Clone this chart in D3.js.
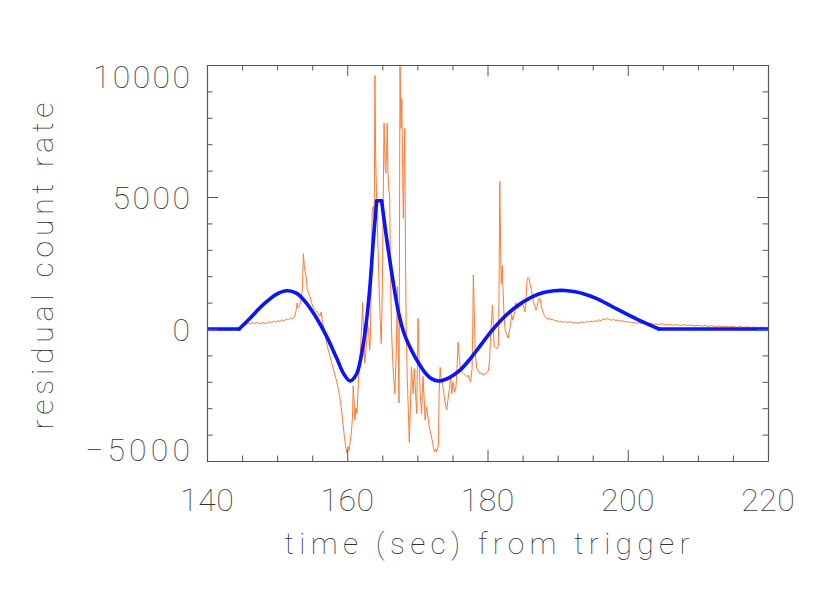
<!DOCTYPE html>
<html><head><meta charset="utf-8">
<script src="https://cdn.jsdelivr.net/npm/d3@7"></script>
<style>body{margin:0;background:#fff}</style>
</head><body><svg id="c" width="830" height="593"></svg>
<script>
// ---- data ----
const xDomain = [140, 220];
const yDomain = [-5000, 10000];
const xTickLabels = [140, 160, 180, 200, 220];
const yTickLabels = [-5000, 0, 5000, 10000];
const xTitle = "time (sec) from trigger";
const yTitle = "residual count rate";

// residual count rate (orange), [time, counts]
const residualSeries = [
[140,20],[140.5,-15],[141,10],[141.5,-45],[142,-20],[142.5,-55],[143,-10],[143.5,-35],[144,20],[144.5,-5],[145,90],
[145.3,200],[145.6,150],[145.9,230],[146.2,190],[146.5,240],[146.8,205],[147.1,260],[147.4,215],[147.7,195],[148.0,250],
[148.3,205],[148.6,235],[148.9,270],[149.2,235],[149.5,300],[149.8,255],[150.1,320],[150.4,280],[150.7,350],[151.0,305],
[151.3,380],[151.6,340],[151.9,420],[152.2,380],[152.5,450],[152.7,700],[152.85,980],[153.0,820],[153.2,900],[153.4,1100],
[153.6,1500],[153.75,2850],[153.9,2300],[154.1,2050],[154.3,1500],[154.5,1350],[154.7,1200],[154.9,1000],[155.1,850],
[155.3,760],[155.5,700],[155.8,600],[156.1,480],[156.3,650],[156.45,300],[156.7,0],[157.0,-450],[157.3,-800],[157.6,-1100],
[157.9,-1400],[158.2,-1700],[158.5,-2000],[158.8,-2350],[159.0,-2700],[159.2,-3100],[159.4,-3600],[159.6,-4100],[159.8,-4500],
[159.95,-4700],[160.1,-4450],[160.25,-4600],[160.4,-4300],[160.6,-3900],[160.75,-3300],[160.85,-2150],[160.95,-2600],
[161.1,-3450],[161.25,-3000],[161.4,-3200],[161.6,-1900],[161.8,-1200],[162.0,-200],[162.2,1000],[162.35,-300],[162.5,-1300],
[162.7,-700],[162.9,200],[163.05,-100],[163.2,-800],[163.3,-300],[163.45,2500],[163.55,4400],[163.7,4650],[163.85,4200],
[163.95,9600],[164.05,6500],[164.2,4800],[164.4,3000],[164.55,1500],[164.7,300],[164.85,-550],[165.0,1500],[165.15,5500],
[165.25,7800],[165.4,6200],[165.5,5900],[165.62,6800],[165.7,7800],[165.8,6000],[165.9,5400],[166.05,5000],[166.15,2500],
[166.3,100],[166.45,-1000],[166.6,-1800],[166.8,-2450],[166.9,-1500],[167.0,-800],[167.15,1600],[167.3,-1400],[167.38,-2800],
[167.45,3000],[167.52,10500],[167.6,8500],[167.68,7600],[167.78,8700],[167.9,6000],[168.0,4200],[168.1,6000],[168.2,7600],
[168.3,3000],[168.4,100],[168.55,-1800],[168.7,-3000],[168.85,-4300],[169.0,-3000],[169.15,-1450],[169.3,-2000],[169.4,-2450],
[169.55,-1500],[169.7,-2200],[169.9,-3200],[170.0,-1500],[170.1,400],[170.25,-1200],[170.4,-2450],[170.6,-3200],[170.8,-1800],
[171.0,-2800],[171.1,-3450],[171.3,-2950],[171.5,-3300],[171.7,-3700],[171.9,-3950],[172.1,-4200],[172.3,-4500],[172.45,-4650],
[172.6,-4550],[172.75,-4650],[172.9,-4500],[173.0,-4400],[173.1,-2450],[173.25,-1450],[173.4,-1900],[173.55,-2000],
[173.75,-2400],[173.9,-2700],[174.05,-2950],[174.2,-3050],[174.35,-2700],[174.55,-2300],[174.75,-1800],[174.9,-2450],
[175.1,-2000],[175.3,-2400],[175.5,-2200],[175.65,-1500],[175.8,-500],[175.95,-1000],[176.15,-1550],[176.4,-1650],
[176.6,-1700],[176.8,-1750],[177.0,-1800],[177.25,-1750],[177.45,-1950],[177.6,-2000],[177.8,-1500],[177.9,0],[177.98,2050],
[178.1,800],[178.25,-900],[178.45,-1450],[178.7,-1600],[178.9,-1700],[179.15,-1650],[179.4,-1750],[179.65,-1700],[179.9,-1650],
[180.1,-1600],[180.3,-1200],[180.45,-200],[180.6,400],[180.7,900],[180.8,300],[180.95,-650],[181.15,-700],[181.35,-750],
[181.55,-650],[181.65,1500],[181.75,5600],[181.85,3500],[181.97,1700],[182.1,2400],[182.2,1600],[182.35,600],[182.5,0],
[182.65,-150],[182.8,-250],[182.97,-350],[183.1,-100],[183.25,100],[183.45,550],[183.6,330],[183.75,500],[183.9,660],
[184.05,1000],[184.2,850],[184.35,760],[184.5,900],[184.6,840],[184.8,900],[185.0,980],[185.2,800],[185.35,650],[185.5,1200],
[185.65,1850],[185.8,1950],[185.95,1900],[186.1,1650],[186.25,1500],[186.4,1250],[186.55,1050],[186.7,900],[186.9,720],
[187.05,800],[187.2,1050],[187.35,1150],[187.5,1150],[187.6,950],[187.75,780],[187.95,600],[188.15,480],[188.4,400],
[188.6,360],[188.8,420],[189.0,340],[189.3,380],[189.6,290],[189.9,330],[190.2,260],[190.5,300],[190.8,250],[191.1,290],
[191.4,230],[191.7,280],[192.0,250],[192.3,220],[192.6,260],[192.9,210],[193.2,240],[193.5,270],[193.8,230],[194.1,290],
[194.4,260],[194.7,300],[195.0,270],[195.3,320],[195.6,280],[195.9,350],[196.2,310],[196.5,390],[196.8,350],[197.1,410],
[197.4,360],[197.7,330],[198.0,370],[198.3,310],[198.6,340],[198.9,290],[199.2,320],[199.5,270],[199.8,290],[200.1,240],
[200.4,270],[200.7,230],[201.0,260],[201.3,210],[201.6,250],[201.9,200],[202.2,230],[202.5,190],[202.8,220],[203.1,180],
[203.4,210],[203.7,170],[204.0,200],[204.3,160],[204.6,190],[205,185],[205.5,150],[206,180],[206.5,140],[207,170],
[207.5,130],[208,165],[208.5,125],[209,155],[209.5,115],[210,145],[210.5,105],[211,135],[211.5,95],[212,125],[212.5,90],
[213,115],[213.5,80],[214,105],[214.5,70],[215,100],[215.5,65],[216,90],[216.5,55],[217,85],[217.5,50],[218,80],[218.5,45],
[219,75],[219.5,40],[220,60]
];

// model curve (blue), [time, counts]
const modelSeries = [
[140,0],[144.6,0],[146.13,405],[147.3,740],[148.5,1035],[149.94,1320],[151.37,1450],[152.8,1350],[154.2,970],
[155.64,405],[157.07,-290],[158.5,-1110],[159.5,-1700],[160.4,-1970],[161.3,-1720],
[161.9,-1150],[162.6,0],[163.2,1500],[163.7,3300],[164.2,4860],[164.9,4860],[165.5,3650],
[166.5,1860],[167.3,640],[168.1,-160],[169.0,-720],[169.9,-1170],[171.0,-1620],[172.0,-1880],
[173.0,-1970],[174.5,-1850],[176,-1580],[177.5,-1140],[179,-620],[180.5,-100],[182,350],[183.5,720],[185,1010],[186.5,1240],
[188,1380],[189.5,1450],[191,1460],[192.5,1410],[194,1310],[195.5,1160],[197,960],[198.5,750],[200,545],[201.5,350],
[203,170],[204.45,0],[220,0]
];
const modelCorners = [144.6, 164.2, 164.9, 204.45];

// ---- drawing ----
const W = 830, H = 593;
const L = 207, R = 768, T = 65, B = 461;
const svg = d3.select("#c");
svg.append("rect").attr("width", W).attr("height", H).attr("fill", "#fff");

const x = d3.scaleLinear().domain(xDomain).range([L, R]);
const y = d3.scaleLinear().domain(yDomain).range([B, T]);

svg.append("clipPath").attr("id", "clip").append("rect")
  .attr("x", L).attr("y", T).attr("width", R - L).attr("height", B - T);

const plot = svg.append("g").attr("clip-path", "url(#clip)");

plot.append("path").datum(residualSeries)
  .attr("fill", "none").attr("stroke", "#ff7a33").attr("stroke-width", 1)
  .attr("d", d3.line().x(d => x(d[0])).y(d => y(d[1])));

// model split at corner points, smooth inside each piece
const pieces = [];
let cur = [];
modelSeries.forEach(p => {
  cur.push(p);
  if (modelCorners.includes(p[0]) && cur.length > 1) { pieces.push(cur); cur = [p]; }
});
if (cur.length > 1) pieces.push(cur);
const mLine = d3.line().x(d => x(d[0])).y(d => y(d[1])).curve(d3.curveCatmullRom.alpha(0.5));
pieces.forEach(pc => {
  plot.append("path").datum(pc)
    .attr("fill", "none").attr("stroke", "#0a14ff").attr("stroke-width", 3.6)
    .attr("stroke-linejoin", "round").attr("stroke-linecap", "round")
    .attr("d", mLine);
});

// axes (IDL style box with inward ticks)
const axisColor = "#555";
const major = 11, minor = 5.5;
const axisG = svg.append("g");
function tickDraw(g, scale, orient, minorStep, majorStep) {
  const [d0, d1] = scale.domain();
  const vals = d3.range(d0, d1 + minorStep / 2, minorStep);
  const a = g.append("g").attr("transform",
    orient === "bottom" ? `translate(0,${B})` : orient === "top" ? `translate(0,${T})` :
    orient === "left" ? `translate(${L},0)` : `translate(${R},0)`);
  const ax = (orient === "bottom" ? d3.axisBottom(scale) : orient === "top" ? d3.axisTop(scale) :
    orient === "left" ? d3.axisLeft(scale) : d3.axisRight(scale))
    .tickValues(vals).tickFormat("").tickSizeOuter(0)
    .tickSizeInner(0);
  a.call(ax);
  a.select(".domain").attr("stroke", axisColor).attr("stroke-width", 1.2);
  const dir = (orient === "bottom" || orient === "right") ? -1 : 1;
  a.selectAll(".tick line").each(function(v) {
    const isMajor = Math.abs(v / majorStep - Math.round(v / majorStep)) < 1e-6;
    const len = (isMajor ? major : minor) * dir;
    const el = d3.select(this).attr("stroke", axisColor).attr("stroke-width", 1);
    if (orient === "bottom" || orient === "top") el.attr("y2", len); else el.attr("x2", len);
  });
}
tickDraw(axisG, x, "bottom", 5, 20);
tickDraw(axisG, x, "top", 5, 20);
tickDraw(axisG, y, "left", 1000, 5000);
tickDraw(axisG, y, "right", 1000, 5000);

const font = "Roboto, 'DejaVu Sans', sans-serif";
const fw = 100;
const txtColor = "#333";
const minus = "\u2212";
const digitW = 18.5;

svg.append("g").selectAll("text").data(xTickLabels).join("text")
  .attr("x", d => x(d)).attr("y", 511)
  .attr("text-anchor", "middle")
  .attr("font-family", font).attr("font-weight", fw).attr("font-size", 32).attr("fill", txtColor)
  .attr("textLength", d => String(d).length * digitW - 2).attr("lengthAdjust", "spacing")
  .text(d => d);

svg.append("g").selectAll("text").data(yTickLabels).join("text")
  .attr("x", 190)
  .attr("y", d => Math.min(B, Math.max(T + 23, y(d) + 12)))
  .attr("text-anchor", "end")
  .attr("font-family", font).attr("font-weight", fw).attr("font-size", 32).attr("fill", txtColor)
  .each(function(d) {
    const s = d < 0 ? minus + Math.abs(d) : String(d);
    const el = d3.select(this).text(s);
    if (s.length > 1) el.attr("textLength", d < 0 ? 105 : s.length * 19.4 - 0).attr("lengthAdjust", "spacing");
  });

svg.append("text")
  .attr("x", 487).attr("y", 554).attr("text-anchor", "middle")
  .attr("font-family", font).attr("font-weight", fw).attr("font-size", 30).attr("fill", txtColor)
  .attr("textLength", 405).attr("lengthAdjust", "spacing")
  .text(xTitle);

svg.append("text")
  .attr("transform", "translate(53,266) rotate(-90)").attr("text-anchor", "middle")
  .attr("font-family", font).attr("font-weight", fw).attr("font-size", 30).attr("fill", txtColor)
  .attr("textLength", 327).attr("lengthAdjust", "spacing")
  .text(yTitle);
</script>
</body></html>
